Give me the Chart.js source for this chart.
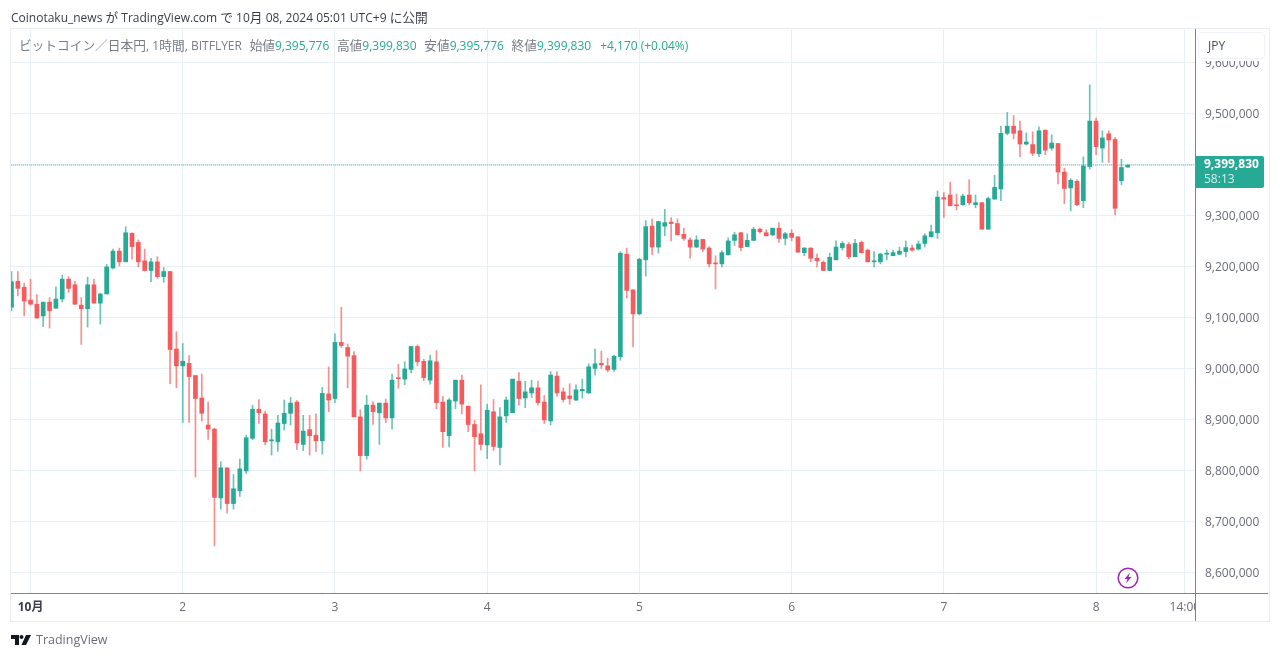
<!DOCTYPE html>
<html lang="ja">

<head>
    <meta charset="utf-8" />
    <title>ビットコイン／日本円</title>
    <script src="https://cdn.jsdelivr.net/npm/chart.js"></script>
    <style>
        html, body { margin: 0; padding: 0; background: #fff; overflow: hidden; }
        body { width: 1280px; height: 658px; position: relative; font-family: "Open Sans", "Noto Sans CJK JP", sans-serif; }
        #frame { position: absolute; left: 10px; top: 28px; width: 1258px; height: 592px; border: 1px solid #e9edf1; }
        #chartWrap { position: absolute; left: 0; top: 0; width: 1280px; height: 658px; }
        .over { position: absolute; white-space: nowrap; }
        .j { font-size: 12.7px; }
        #published { left: 11px; top: 9px; font-size: 12px; line-height: 16px; color: #3b3e48; }
        #legend { left: 19px; top: 37px; font-size: 12px; line-height: 16px; color: #7a7d88; }
        #legend b { font-weight: normal; color: #26a995; }
        #legend .gap { margin-left: 7.7px; }
        #legend .gapLast { margin-left: 9px; }
        #currency { left: 1198px; top: 32px; width: 56px; height: 25px; line-height: 25px; padding-left: 9px; background: #fff; border: 1px solid #eef1f5; border-radius: 4px; box-shadow: 0 2px 0 #fff; font-size: 12px; color: #4a4d58; }
        #bolt { left: 1117px; top: 567px; }
        #logo { left: 11px; top: 634px; }
        #brand { left: 36px; top: 631px; font-size: 12.5px; line-height: 18px; color: #6a6d78; }
    </style>
</head>

<body>
    <div id="frame"></div>
    <div id="chartWrap"><canvas id="candleChart"></canvas></div>
    <div class="over" id="published">Coinotaku_news <span class="j">が</span> TradingView.com <span class="j">で</span> 10<span class="j">月</span> 08, 2024 05:01 UTC+9 <span class="j">に公開</span></div>
    <div class="over" id="legend"><span class="j">ビットコイン／日本円</span>, <span class="j">1時間</span>, BITFLYER<span class="gap j">始値</span><b>9,395,776</b><span class="gap j">高値</span><b>9,399,830</b><span class="gap j">安値</span><b>9,395,776</b><span class="gap j">終値</span><b>9,399,830</b><b class="gapLast">+4,170 (+0.04%)</b></div>
    <div class="over" id="currency">JPY</div>
    <svg class="over" id="bolt" width="22" height="22" viewBox="0 0 22 22">
        <circle cx="11" cy="11" r="9.8" fill="#fff" stroke="#9c27b0" stroke-width="1.5" />
        <path d="M13 5.5 L7.5 12 L10.5 12 L9 16.5 L14.5 10 L11.5 10 Z" fill="#9c27b0" />
    </svg>
    <svg class="over" id="logo" width="20" height="12" viewBox="0 0 20 12">
        <path d="M0 1 H8 V11 H4 V5 H0 Z M15 1 H20 L15 11 H10.5 Z" fill="#131722" />
        <circle cx="10.5" cy="3" r="2" fill="#131722" />
    </svg>
    <div class="over" id="brand">TradingView</div>

    <script>
        // prices in thousands of yen, one entry per hour starting at 21:00 on 30 Sep
        const firstHour = -3;

        const opens = [
            9121, 9172, 9160, 9135, 9127, 9104, 9131, 9119, 9137, 9176,
            9165, 9125, 9118, 9165, 9129, 9147, 9198, 9231, 9210, 9266,
            9248, 9212, 9193, 9210, 9181, 9191, 9039, 9006, 9011, 8987,
            8943, 8890, 8882, 8747, 8806, 8736, 8761, 8800, 8864, 8921,
            8912, 8859, 8857, 8893, 8913, 8935, 8852, 8881, 8870, 8859,
            8951, 8942, 9052, 9042, 9026, 8906, 8830, 8929, 8914, 8933,
            8904, 8982, 8980, 8999, 9044, 9015, 8978, 9014, 8935, 8869,
            8937, 8978, 8927, 8891, 8873, 8851, 8916, 8846, 8908, 8914,
            8976, 8943, 8953, 8963, 8935, 8898, 8986, 8955, 8947, 8939,
            8957, 8953, 9001, 9011, 9006, 8999, 9024, 9225, 9155, 9108,
            9214, 9280, 9239, 9280, 9288, 9285, 9264, 9253, 9239, 9254,
            9237, 9208, 9206, 9224, 9252, 9267, 9240, 9252, 9274, 9267,
            9263, 9276, 9256, 9266, 9259, 9228, 9237, 9217, 9209, 9193,
            9214, 9238, 9244, 9220, 9248, 9233, 9210, 9210, 9225, 9222,
            9225, 9230, 9237, 9235, 9246, 9259, 9267, 9336, 9341, 9322,
            9322, 9341, 9322, 9326, 9274, 9333, 9353, 9462, 9476, 9467,
            9441, 9440, 9422, 9468, 9433, 9442, 9386, 9355, 9368, 9330,
            9397, 9486, 9433, 9461, 9450, 9369, 9395.776
        ];
        const highs = [
            9191, 9191, 9168, 9176, 9146, 9131, 9140, 9161, 9184, 9181,
            9172, 9140, 9180, 9176, 9148, 9205, 9235, 9237, 9279, 9267,
            9253, 9235, 9217, 9220, 9199, 9191, 9073, 9050, 9026, 8987,
            8990, 8935, 8884, 8818, 8806, 8793, 8823, 8870, 8929, 8940,
            8917, 8882, 8909, 8939, 8944, 8938, 8909, 8909, 8912, 8964,
            9004, 9069, 9121, 9049, 9034, 8920, 8948, 8936, 8933, 8941,
            8990, 9009, 9014, 9044, 9047, 9019, 9027, 9036, 8946, 8942,
            8978, 8988, 8927, 8899, 8969, 8931, 8940, 8924, 8945, 8980,
            8993, 8976, 8978, 8976, 8948, 8995, 8995, 8963, 8971, 8969,
            8980, 9010, 9039, 9035, 9021, 9027, 9230, 9237, 9155, 9217,
            9291, 9294, 9290, 9313, 9297, 9294, 9276, 9257, 9261, 9254,
            9240, 9222, 9232, 9257, 9268, 9268, 9265, 9278, 9276, 9273,
            9276, 9287, 9268, 9273, 9259, 9238, 9238, 9225, 9212, 9227,
            9251, 9250, 9248, 9254, 9251, 9235, 9230, 9227, 9233, 9233,
            9239, 9251, 9243, 9251, 9265, 9282, 9349, 9346, 9366, 9343,
            9343, 9371, 9341, 9326, 9337, 9380, 9476, 9503, 9497, 9486,
            9463, 9465, 9475, 9469, 9459, 9442, 9394, 9373, 9371, 9416,
            9557, 9492, 9467, 9467, 9454, 9411, 9399.83
        ];
        const lows = [
            9114, 9143, 9104, 9125, 9099, 9083, 9080, 9119, 9131, 9150,
            9126, 9048, 9082, 9129, 9088, 9147, 9196, 9202, 9210, 9215,
            9200, 9192, 9171, 9178, 9170, 8971, 8963, 8895, 8895, 8788,
            8898, 8862, 8653, 8725, 8717, 8725, 8750, 8795, 8861, 8893,
            8851, 8831, 8838, 8880, 8890, 8842, 8840, 8831, 8838, 8833,
            8916, 8934, 9042, 8963, 8906, 8800, 8823, 8891, 8852, 8895,
            8882, 8962, 8969, 8992, 9006, 8977, 8970, 8922, 8846, 8847,
            8922, 8912, 8877, 8800, 8841, 8824, 8840, 8812, 8895, 8914,
            8929, 8924, 8944, 8929, 8893, 8890, 8946, 8935, 8931, 8938,
            8943, 8952, 8988, 9001, 8994, 8995, 9017, 9139, 9043, 9106,
            9182, 9224, 9227, 9261, 9251, 9263, 9252, 9217, 9238, 9230,
            9200, 9157, 9200, 9223, 9242, 9232, 9240, 9252, 9266, 9261,
            9261, 9248, 9243, 9251, 9229, 9222, 9210, 9200, 9193, 9193,
            9214, 9233, 9216, 9220, 9227, 9210, 9200, 9206, 9214, 9222,
            9224, 9220, 9231, 9233, 9239, 9259, 9256, 9297, 9320, 9312,
            9321, 9322, 9316, 9274, 9274, 9333, 9330, 9459, 9451, 9416,
            9439, 9418, 9416, 9420, 9429, 9363, 9324, 9310, 9320, 9316,
            9392, 9420, 9405, 9405, 9302, 9361, 9395.776
        ];
        const closes = [
            9171, 9158, 9133, 9127, 9100, 9131, 9114, 9137, 9176, 9158,
            9127, 9118, 9165, 9129, 9147, 9200, 9231, 9210, 9267, 9240,
            9210, 9193, 9210, 9181, 9191, 9038, 9006, 9015, 8985, 8942,
            8913, 8882, 8748, 8806, 8736, 8765, 8804, 8865, 8921, 8914,
            8857, 8861, 8894, 8913, 8933, 8855, 8878, 8869, 8859, 8952,
            8939, 9052, 9046, 9025, 8906, 8830, 8929, 8916, 8933, 8904,
            8978, 8981, 9000, 9044, 9014, 8983, 9016, 8934, 8877, 8939,
            8978, 8931, 8891, 8867, 8852, 8919, 8848, 8906, 8939, 8980,
            8942, 8955, 8963, 8934, 8900, 8988, 8953, 8940, 8942, 8959,
            8960, 9004, 9010, 9008, 8998, 9025, 9227, 9154, 9108, 9215,
            9279, 9239, 9289, 9287, 9285, 9263, 9256, 9239, 9253, 9235,
            9206, 9206, 9228, 9251, 9263, 9238, 9252, 9274, 9269, 9261,
            9276, 9256, 9265, 9258, 9229, 9237, 9217, 9212, 9193, 9219,
            9239, 9246, 9220, 9246, 9228, 9210, 9212, 9225, 9227, 9228,
            9231, 9238, 9233, 9245, 9261, 9269, 9337, 9333, 9320, 9320,
            9339, 9326, 9326, 9274, 9334, 9356, 9462, 9476, 9462, 9441,
            9445, 9423, 9467, 9429, 9443, 9386, 9354, 9370, 9322, 9398,
            9486, 9436, 9453, 9449, 9315, 9395, 9399.83
        ];

        const priceTicks = [8600, 8700, 8800, 8900, 9000, 9100, 9200, 9300, 9400, 9500, 9600];
        const timeTicks = [0, 24, 48, 72, 96, 120, 144, 168, 182];
        const timeLabels = ['10月', '2', '3', '4', '5', '6', '7', '8', '14:00'];
        const lastPrice = 9399.83;
        const countdown = '58:13';

        const up = '#26a995';
        const down = '#f55a5c';
        const upWick = '#26a995b0';
        const downWick = '#f55a5cb0';
        const lastLine = '#3dbba6';
        const gridColor = '#e8f0f4';
        const axisColor = '#80838e';
        const labelColor = '#6a6d78';
        const fontName = '"Open Sans", "Noto Sans CJK JP", sans-serif';

        const hours = opens.map((_, i) => firstHour + i);
        const colors = opens.map((o, i) => closes[i] >= o ? up : down);
        const wickColors = opens.map((o, i) => closes[i] >= o ? upWick : downWick);
        const yen = v => Math.round(v * 1000).toLocaleString('en-US');

        // axis lines and the price tag on the right
        const overlay = {
            id: 'overlay',
            afterDraw(chart) {
                const { ctx, chartArea: a, scales } = chart;
                ctx.save();
                // the 14:00 label runs under the price scale
                ctx.fillStyle = '#fff';
                ctx.fillRect(a.right + 1, a.bottom + 1, 72, 26);

                ctx.strokeStyle = axisColor;
                ctx.lineWidth = 1;
                ctx.beginPath();
                ctx.moveTo(a.left, a.bottom + 0.5);
                ctx.lineTo(1268, a.bottom + 0.5);
                ctx.moveTo(a.right + 0.5, a.top);
                ctx.lineTo(a.right + 0.5, 621);
                ctx.stroke();

                const y = scales.y.getPixelForValue(lastPrice);
                ctx.fillStyle = up;
                ctx.beginPath();
                ctx.roundRect(a.right + 1, y - 9, 68, 32, [0, 2, 2, 0]);
                ctx.fill();
                ctx.textAlign = 'left';
                ctx.textBaseline = 'middle';
                ctx.fillStyle = '#fff';
                ctx.font = 'bold 12px ' + fontName;
                ctx.fillText(yen(lastPrice), a.right + 9, y);
                ctx.fillStyle = '#d3eee9';
                ctx.font = '12px ' + fontName;
                ctx.fillText(countdown, a.right + 9, y + 15);
                ctx.restore();
            }
        };

        new Chart(document.getElementById('candleChart'), {
            type: 'bar',
            data: {
                datasets: [
                    {
                        label: 'wick',
                        order: 2,
                        data: hours.map((h, i) => ({ x: h, y: [lows[i], highs[i]] })),
                        backgroundColor: wickColors,
                        barThickness: 1,
                        grouped: false
                    },
                    {
                        label: 'body',
                        order: 1,
                        data: hours.map((h, i) => ({ x: h, y: [opens[i], closes[i]] })),
                        backgroundColor: colors,
                        barThickness: 4,
                        minBarLength: 1,
                        grouped: false
                    },
                    {
                        type: 'line',
                        label: 'last',
                        order: 3,
                        data: [{ x: firstHour - 1, y: lastPrice }, { x: 184, y: lastPrice }],
                        borderColor: lastLine,
                        borderWidth: 1,
                        borderDash: [1, 1],
                        pointRadius: 0
                    }
                ]
            },
            options: {
                animation: false,
                responsive: true,
                maintainAspectRatio: false,
                layout: { padding: { left: 11, top: 29, right: 12, bottom: 37 } },
                plugins: { legend: { display: false }, tooltip: { enabled: false }, title: { display: false } },
                scales: {
                    x: {
                        type: 'linear',
                        offset: false,
                        min: -3.08,
                        max: 183.6,
                        afterBuildTicks: scale => { scale.ticks = timeTicks.map(v => ({ value: v })); },
                        afterFit: scale => { scale.height = 28; },
                        grid: { offset: false, color: gridColor, drawTicks: false },
                        border: { display: false },
                        ticks: {
                            autoSkip: false,
                            maxRotation: 0,
                            padding: 7,
                            color: ctx => ctx.index === 0 ? '#3b3e48' : labelColor,
                            font: ctx => ({ family: fontName, size: 12, weight: ctx.index === 0 ? 'bold' : 'normal' }),
                            callback: v => timeLabels[timeTicks.indexOf(v)]
                        }
                    },
                    y: {
                        position: 'right',
                        min: 8560.6,
                        max: 9666.6,
                        afterBuildTicks: scale => { scale.ticks = priceTicks.map(v => ({ value: v })); },
                        afterFit: scale => { scale.width = 73; },
                        // price labels sit one pixel below their grid line
                        afterUpdate: scale => {
                            if (scale.labelsMoved) return;
                            scale.labelsMoved = true;
                            const drawLabels = scale.drawLabels;
                            scale.drawLabels = function (area) {
                                this.ctx.save();
                                this.ctx.translate(0, 1);
                                drawLabels.call(this, area);
                                this.ctx.restore();
                            };
                        },
                        grid: { color: gridColor, drawTicks: false },
                        border: { display: false },
                        ticks: {
                            padding: 10,
                            color: labelColor,
                            font: { family: fontName, size: 12 },
                            callback: v => yen(v)
                        }
                    }
                }
            },
            plugins: [overlay]
        });
    </script>
</body>

</html>
